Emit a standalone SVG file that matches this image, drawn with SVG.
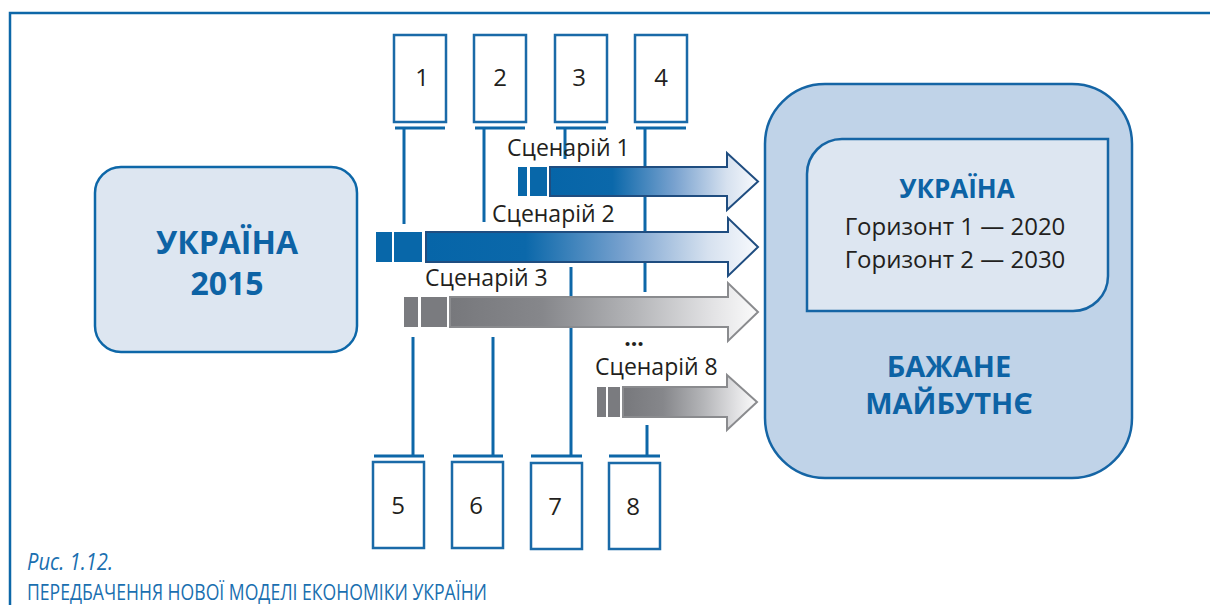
<svg xmlns="http://www.w3.org/2000/svg" width="1210" height="605" viewBox="0 0 1210 605">
<defs>
<linearGradient id="gBlue" x1="0" y1="0" x2="1" y2="0">
<stop offset="0" stop-color="#0665a8"/>
<stop offset="0.3" stop-color="#0b68aa"/>
<stop offset="0.6" stop-color="#79a2cf"/>
<stop offset="0.85" stop-color="#d6e1ef"/>
<stop offset="1" stop-color="#f8fafd"/>
</linearGradient>
<linearGradient id="gGrey" x1="0" y1="0" x2="1" y2="0">
<stop offset="0" stop-color="#77787c"/>
<stop offset="0.3" stop-color="#86878b"/>
<stop offset="0.6" stop-color="#b4b5b8"/>
<stop offset="0.85" stop-color="#e2e2e4"/>
<stop offset="1" stop-color="#fbfbfb"/>
</linearGradient>
<style>
.frame{fill:none;stroke:#0d67a8;stroke-width:2.5}
.sbox{fill:#ffffff;stroke:#1a6aa8;stroke-width:2.5}
.tick{stroke:#0d67a8;stroke-width:3;fill:none}
.num{font-family:"Open Sans","Liberation Sans",sans-serif;font-size:24px;fill:#231f20;text-anchor:middle}
.lbl{font-family:"Open Sans","Liberation Sans",sans-serif;font-size:23px;fill:#231f20}
.bold{font-family:"Open Sans","Liberation Sans",sans-serif;font-weight:700;fill:#0d63a5;text-anchor:middle}
.hz{font-family:"Open Sans","Liberation Sans",sans-serif;font-size:24px;fill:#231f20;text-anchor:middle}
.ablue{fill:url(#gBlue);stroke:#1f4d80;stroke-width:2}
.agrey{fill:url(#gGrey);stroke:#8a8b8e;stroke-width:2}
.sqb{fill:#0867a9}
.sqg{fill:#7a7b7f}
.cap{font-family:"Open Sans","Liberation Sans",sans-serif;fill:#1a6fb0}
</style>
</defs>
<rect width="1210" height="605" fill="#ffffff"/>
<path class="frame" d="M10,605 V13 H1210"/>

<g id="connectors">
<line class="tick" x1="395" y1="128" x2="445" y2="128"/>
<line class="tick" x1="475" y1="128" x2="525" y2="128"/>
<line class="tick" x1="556" y1="128" x2="606" y2="128"/>
<line class="tick" x1="636" y1="128" x2="686" y2="128"/>
<line class="tick" x1="404" y1="128" x2="404" y2="224"/>
<line class="tick" x1="484" y1="128" x2="484" y2="222"/>
<line class="tick" x1="565" y1="128" x2="565" y2="159"/>
<line class="tick" x1="645" y1="128" x2="645" y2="292"/>
<line class="tick" x1="374" y1="456" x2="424" y2="456"/>
<line class="tick" x1="453" y1="456" x2="503" y2="456"/>
<line class="tick" x1="531" y1="456" x2="582" y2="456"/>
<line class="tick" x1="609" y1="456" x2="660" y2="456"/>
<line class="tick" x1="413" y1="456" x2="413" y2="337"/>
<line class="tick" x1="493" y1="456" x2="493" y2="337"/>
<line class="tick" x1="571" y1="456" x2="571" y2="267"/>
<line class="tick" x1="647" y1="456" x2="647" y2="425"/>
</g>

<g id="node-ukraine-2015">
<rect x="95" y="167" width="262" height="185" rx="26" fill="#dde6f1" stroke="#0d67a8" stroke-width="2.5"/>
<text class="bold" x="227" y="254" font-size="32">УКРАЇНА</text>
<text class="bold" x="227" y="295" font-size="32">2015</text>
</g>

<g id="node-future">
<rect x="765" y="84" width="367" height="394" rx="60" fill="#c0d3e8" stroke="#1565a5" stroke-width="2.5"/>
<path d="M842,139 H1108 V276 A35,35 0 0 1 1073,311 H807 V174 A35,35 0 0 1 842,139 Z" fill="#dde6f1" stroke="#1565a5" stroke-width="2.5"/>
<text class="bold" x="957" y="198" font-size="26">УКРАЇНА</text>
<text class="hz" x="955" y="235">Горизонт 1 — 2020</text>
<text class="hz" x="955" y="268">Горизонт 2 — 2030</text>
<text class="bold" x="949" y="377" font-size="29">БАЖАНЕ</text>
<text class="bold" x="949" y="414" font-size="29">МАЙБУТНЄ</text>
</g>

<g id="node-1"><rect class="sbox" x="394" y="35" width="52" height="87"/><text class="num" x="422" y="86">1</text></g>
<g id="node-2"><rect class="sbox" x="474" y="35" width="52" height="87"/><text class="num" x="500" y="86">2</text></g>
<g id="node-3"><rect class="sbox" x="555" y="35" width="52" height="87"/><text class="num" x="579" y="86">3</text></g>
<g id="node-4"><rect class="sbox" x="635" y="35" width="52" height="87"/><text class="num" x="661" y="86">4</text></g>
<g id="node-5"><rect class="sbox" x="373" y="462" width="51" height="86"/><text class="num" x="398" y="514">5</text></g>
<g id="node-6"><rect class="sbox" x="452" y="462" width="51" height="86"/><text class="num" x="476" y="514">6</text></g>
<g id="node-7"><rect class="sbox" x="531" y="463" width="51" height="86"/><text class="num" x="555" y="515">7</text></g>
<g id="node-8"><rect class="sbox" x="609" y="463" width="51" height="86"/><text class="num" x="633" y="515">8</text></g>

<g id="scenario-1">
<rect class="sqb" x="518" y="167" width="9" height="29"/>
<rect class="sqb" x="530" y="167" width="17" height="29"/>
<path class="ablue" d="M550,167 H727 V153 L758,181.5 L727,210 V196 H550 Z"/>
<text class="lbl" x="507" y="156">Сценарій 1</text>
</g>
<g id="scenario-2">
<rect class="sqb" x="376" y="232" width="16" height="30"/>
<rect class="sqb" x="394" y="232" width="28" height="30"/>
<path class="ablue" d="M426,232 H728 V218 L758,247 L728,276 V262 H426 Z"/>
<text class="lbl" x="492" y="222">Сценарій 2</text>
</g>
<g id="scenario-3">
<rect class="sqg" x="404" y="297" width="14" height="30"/>
<rect class="sqg" x="421" y="297" width="26" height="30"/>
<path class="agrey" d="M450,297 H728 V283 L758,312 L728,341 V327 H450 Z"/>
<text class="lbl" x="425" y="286">Сценарій 3</text>
</g>
<text class="lbl" x="634" y="346" text-anchor="middle" font-weight="700">...</text>
<g id="scenario-8">
<rect class="sqg" x="597" y="387" width="9" height="30"/>
<rect class="sqg" x="608" y="387" width="12" height="30"/>
<path class="agrey" d="M623,387 H727 V375 L757,402 L727,430 V417 H623 Z"/>
<text class="lbl" x="595" y="375">Сценарій 8</text>
</g>

<text class="cap" x="27" y="570" font-size="24" font-style="italic" textLength="86" lengthAdjust="spacingAndGlyphs">Рис. 1.12.</text>
<text class="cap" x="27" y="600" font-size="21" textLength="460" lengthAdjust="spacingAndGlyphs">ПЕРЕДБАЧЕННЯ НОВОЇ МОДЕЛІ ЕКОНОМІКИ УКРАЇНИ</text>
</svg>
